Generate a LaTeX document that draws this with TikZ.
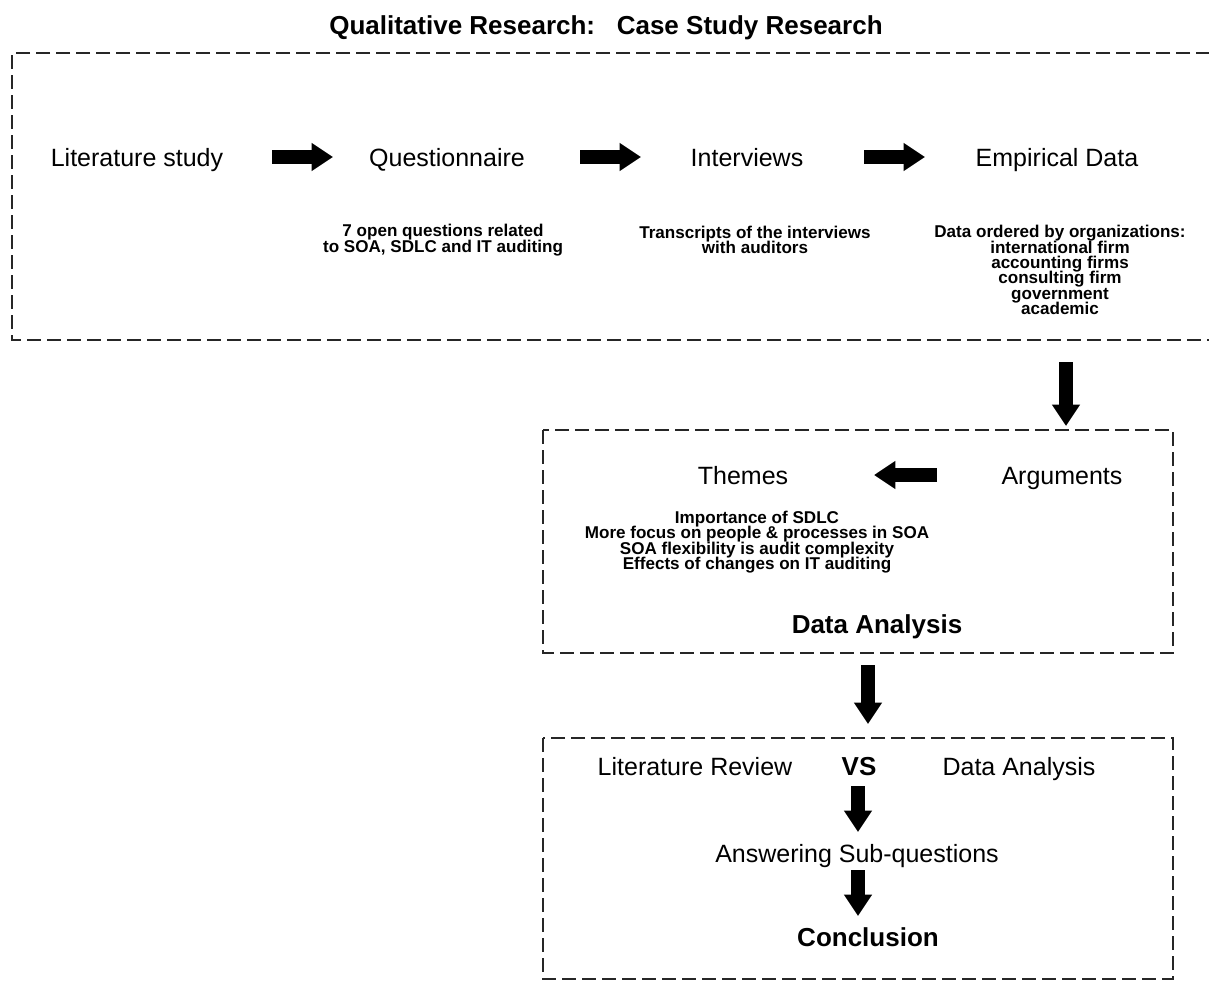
\documentclass[tikz,border=0pt]{standalone}
\usepackage{fontspec}
\setmainfont{Liberation Sans}
\usetikzlibrary{arrows.meta}
\tikzset{
  lbl/.style={inner sep=0pt, anchor=base, font=\fontsize{18.75}{22}\selectfont},
  blbl/.style={inner sep=0pt, anchor=base, font=\bfseries\fontsize{19.5}{22}\selectfont},
  small/.style={inner sep=0pt, align=center, font={\bfseries\fontsize{12.8}{11.5}\selectfont\lineskiplimit=-20pt}},
  dbox/.style={line width=2pt, color=black!85, dash pattern=on 10.5pt off 4.5pt},
  fat/.style={line width=10.5pt, -{Triangle[length=16pt,width=20pt]}},
}
\begin{document}
\begin{tikzpicture}[x=0.75pt,y=-0.75pt]
\useasboundingbox (0,0) rectangle (1209,985);
\clip (0,0) rectangle (1209,985);
% title
\node[blbl] (title) at (606,34) {Qualitative Research:\ \ \ Case Study Research};
% top box (open to the right)
\draw[dbox] (1230,53) -- (12,53) -- (12,340) -- (1230,340);
\node[lbl] (lit) at (137,166) {Literature study};
\node[lbl] (quest) at (447,166) {Questionnaire};
\node[lbl] (inter) at (747,166) {Interviews};
\node[lbl] (emp) at (1057,166) {Empirical Data};
\coordinate (a1s) at (272,157); \coordinate (a1e) at (333,157);
\coordinate (a2s) at (580,157); \coordinate (a2e) at (641,157);
\coordinate (a3s) at (864,157); \coordinate (a3e) at (925,157);
\draw[fat] (a1s) -- (a1e);
\draw[fat] (a2s) -- (a2e);
\draw[fat] (a3s) -- (a3e);
\node[small] (qsub) at (443,240) {7 open questions related\\to SOA, SDLC and IT auditing};
\node[small] (isub) at (755,240) {Transcripts of the interviews\\with auditors};
\node[small] (esub) at (1060,270) {Data ordered by organizations:\\international firm\\accounting firms\\consulting firm\\government\\academic};
% middle box
\coordinate (d1s) at (1066,362); \coordinate (d1e) at (1066,426);
\draw[fat] (d1s) -- (d1e);
\draw[dbox] (543,430) rectangle (1173,653);
\node[lbl] (themes) at (743,484) {Themes};
\node[lbl] (args) at (1062,484) {Arguments};
\coordinate (l1s) at (937,475); \coordinate (l1e) at (874,475);
\draw[fat] (l1s) -- (l1e);
\node[small] (tsub) at (757,542) {Importance of SDLC\\More focus on people \& processes in SOA\\SOA flexibility is audit complexity\\Effects of changes on IT auditing};
\node[blbl] (da) at (877,633) {Data Analysis};
% bottom box
\coordinate (d2s) at (868,665); \coordinate (d2e) at (868,724);
\draw[fat] (d2s) -- (d2e);
\draw[dbox] (543,738) rectangle (1173,979);
\node[lbl] (litrev) at (695,775) {Literature Review};
\node[blbl] (vs) at (859,775) {VS};
\node[lbl] (da2) at (1019,775) {Data Analysis};
\node[lbl] (ans) at (857,862) {Answering Sub-questions};
\node[blbl] (concl) at (868,946) {Conclusion};
\coordinate (d3s) at (858,786); \coordinate (d3e) at (858,832);
\coordinate (d4s) at (858,870); \coordinate (d4e) at (858,916);
\draw[fat] (d3s) -- (d3e);
\draw[fat] (d4s) -- (d4e);
\end{tikzpicture}
\end{document}
